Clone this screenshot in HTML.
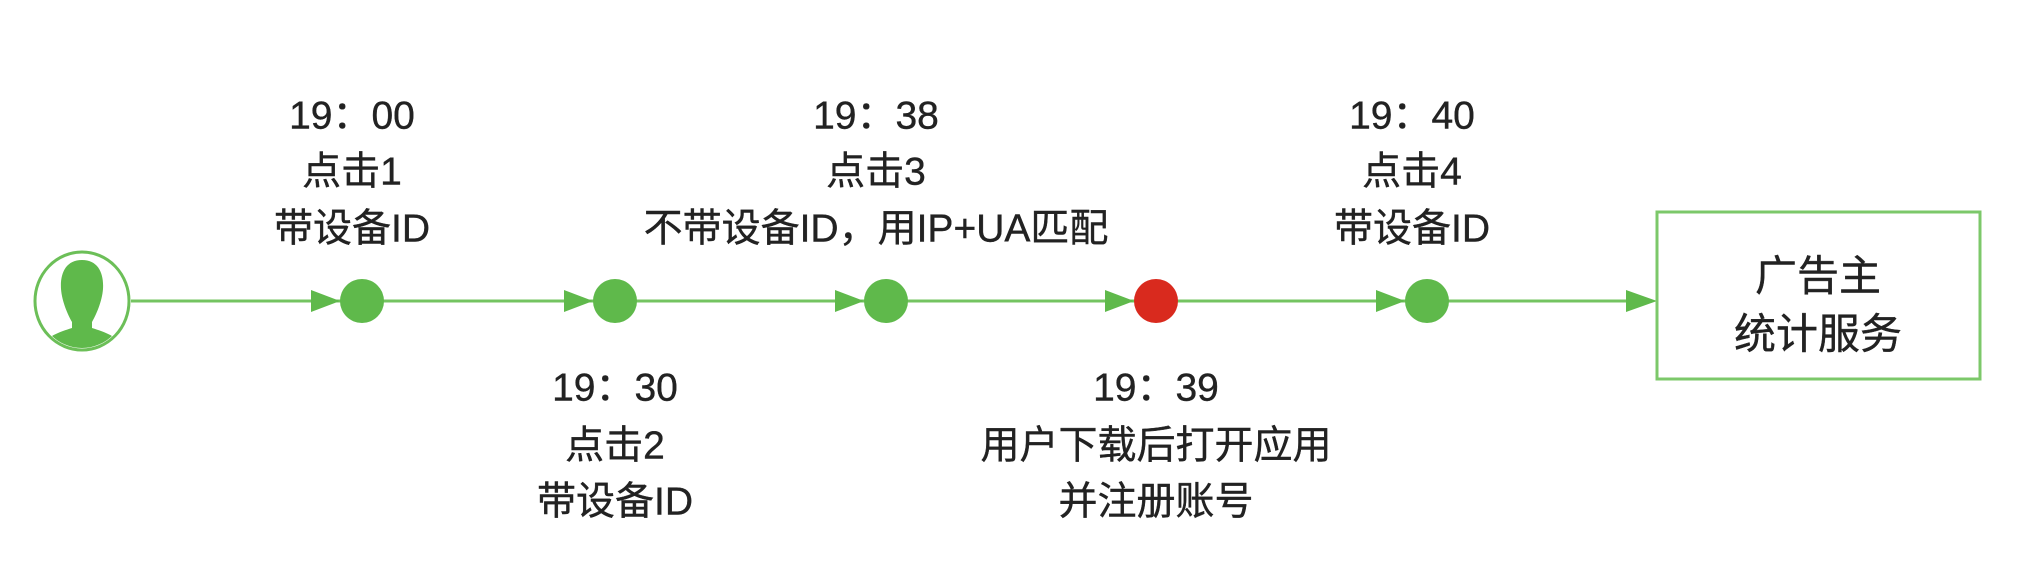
<!DOCTYPE html>
<html><head><meta charset="utf-8"><style>
html,body{margin:0;padding:0;background:#fff;}
svg text{font-family:"Liberation Sans","Noto Sans CJK SC",sans-serif;fill:#222;stroke:#222;stroke-width:0.4;text-anchor:middle;dominant-baseline:central;}
</style></head><body>
<svg width="2029" height="581" viewBox="0 0 2029 581" xmlns="http://www.w3.org/2000/svg">
<g stroke="#74c461" stroke-width="3">
<line x1="131" y1="301" x2="1650" y2="301"/>
</g>
<g fill="#5fb94b">
<polygon points="311,290 340,301 311,312"/>
<polygon points="564,290 593,301 564,312"/>
<polygon points="835,290 864,301 835,312"/>
<polygon points="1105,290 1134,301 1105,312"/>
<polygon points="1376,290 1405,301 1376,312"/>
<polygon points="1626,290 1657,301 1626,312"/>
<circle cx="362" cy="301" r="22"/>
<circle cx="615" cy="301" r="22"/>
<circle cx="886" cy="301" r="22"/>
<circle cx="1427" cy="301" r="22"/>
</g>
<circle cx="1156" cy="301" r="22" fill="#d92a1e"/>
<ellipse cx="82" cy="301" rx="47" ry="49" fill="#fff" stroke="#6cbf58" stroke-width="3"/>
<clipPath id="cp"><ellipse cx="82" cy="301" rx="45" ry="47"/></clipPath>
<g clip-path="url(#cp)" fill="#5fb94b">
<path d="M82,260 C66,260 60,273 61,289 C62,302 68,315 72,322 L72,328 C56,333 42,338 36,356 L128,356 C122,338 108,333 92,328 L92,322 C96,315 102,302 103,289 C104,273 98,260 82,260 Z"/>
</g>
<rect x="1657" y="212" width="323" height="167" fill="#fff" stroke="#7cc86a" stroke-width="3"/>
<g font-size="39">
<text x="352" y="116">19：00</text>
<text x="352" y="172">点击1</text>
<text x="352" y="229">带设备ID</text>
<text x="615" y="388">19：30</text>
<text x="615" y="446">点击2</text>
<text x="615" y="502">带设备ID</text>
<text x="876" y="116">19：38</text>
<text x="876" y="172">点击3</text>
<text x="876" y="229">不带设备ID，用IP+UA匹配</text>
<text x="1156" y="388">19：39</text>
<text x="1156" y="446">用户下载后打开应用</text>
<text x="1156" y="502">并注册账号</text>
<text x="1412" y="116">19：40</text>
<text x="1412" y="172">点击4</text>
<text x="1412" y="229">带设备ID</text>
</g>
<g font-size="42">
<text x="1818" y="276">广告主</text>
<text x="1818" y="334">统计服务</text>
</g>
</svg>
</body></html>
